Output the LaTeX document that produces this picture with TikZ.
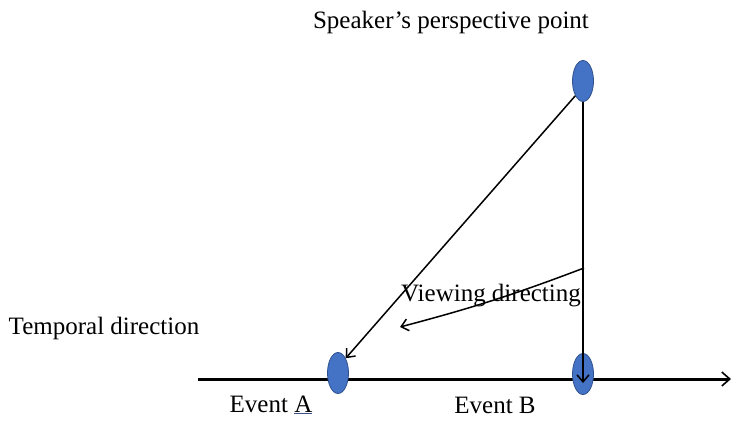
\documentclass[tikz,border=0pt]{standalone}
\usepackage{fontspec}
\setmainfont{Liberation Serif}
\usetikzlibrary{arrows.meta,shapes.geometric}
\definecolor{dotblue}{RGB}{68,114,196}
\definecolor{dotedge}{RGB}{47,82,143}
\definecolor{ulblue}{RGB}{60,80,130}
\tikzset{
  dot/.style={ellipse, draw=dotedge, line width=0.8pt, fill=dotblue, minimum width=21pt, minimum height=41pt, inner sep=0pt},
  lbl/.style={font=\fontsize{25}{28}\selectfont, inner sep=0pt},
  arr/.style={line width=1.5pt, -{Straight Barb[length=7pt,width=12pt,line width=1.5pt]}},
}
\begin{document}
\begin{tikzpicture}[x=1pt,y=-1pt]
\useasboundingbox (0,0) rectangle (733,421);
\coordinate (L) at (198,379);
\coordinate (R) at (731,379);
\draw[line width=3pt, -{Straight Barb[length=8pt,width=14pt,line width=1.6pt]}] (L) -- (R);
\node[dot] (A) at (338,373) {};
\node[dot] (B) at (583,374) {};
\node[dot] (S) at (583,81) {};
\coordinate (Bt) at (583,383);
\coordinate (V1) at (584,268);
\coordinate (V2) at (400,327);
\draw[arr] (S.south) -- (Bt);
\draw[arr] (S.south west) -- (A.north east);
\draw[arr] (V1) to[bend left=3] (V2);
\node[lbl] (st) at (451,22) {Speaker’s perspective point};
\node[lbl] (vt) at (491,296) {Viewing directing};
\node[lbl] (tt) at (104,328) {Temporal direction};
\node[lbl] (ea) at (271,405) {Event {\color{ulblue}\underline{\color{black}A}}};
\node[lbl] (eb) at (495,405) {Event B};
\end{tikzpicture}
\end{document}
